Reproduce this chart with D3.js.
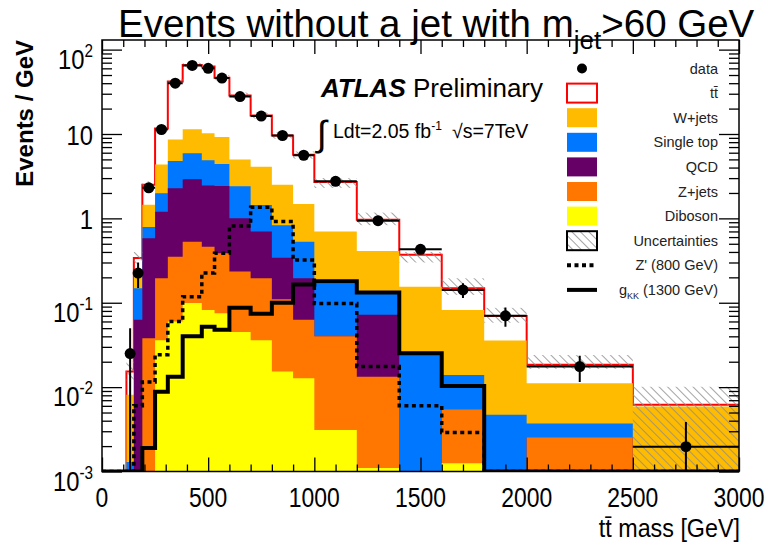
<!DOCTYPE html>
<html>
<head>
<meta charset="utf-8">
<script src="https://cdn.jsdelivr.net/npm/d3@7"></script>
<style>
  body { margin: 0; background: #fff; }
  svg { font-family: "Liberation Sans", Arial, sans-serif; }
</style>
</head>
<body>
<svg id="chart" width="769" height="544"></svg>
<script>

// ========== DATA (Events / GeV per bin) ==========

const binEdges = [0, 115, 150, 190, 250, 310, 380, 470, 530, 600, 700, 800, 900, 1000, 1200, 1400, 1600, 1800, 2000, 2500, 3000];

const diboson   = [0, 0, 0, 0, 0.036, 0.060, 0.099, 0.082, 0.075, 0.045, 0.036, 0.0153, 0.0127, 0.0031, 0.0011, 0, 0.00125, 0, 0, 0];
const zjets     = [0, 0, 0.0008, 0.038, 0.159, 0.29, 0.431, 0.378, 0.31, 0.189, 0.159, 0.095, 0.050, 0.037, 0.0122, 0, 0.0042, 0, 0.00255, 0];
const qcd       = [0, 0, 0.062, 0.542, 1.005, 1.92, 2.37, 1.99, 2.035, 0.766, 0.505, 0.23, 0.132, 0, 0.0587, 0, 0, 0, 0, 0];
const singleTop = [0, 0.0013, 0.086, 0.21, 0.78, 2.53, 3.0, 2.45, 1.98, 1.4, 0.74, 0.49, 0.335, 0.13, 0.058, 0.024, 0.0085, 0.0047, 0.00115, 0];
const wjets     = [0, 0.0068, 0.097, 0.66, 2.37, 3.8, 5.5, 5.3, 4.8, 2.6, 2.66, 1.67, 0.95, 0.53, 0.28, 0.131, 0.068, 0.031, 0.0074, 0.0059];
const ttbar     = [0, 0.0072, 0.094, 1.05, 7.25, 33.4, 54.2, 52.8, 37.3, 23.5, 12.5, 7.1, 4.18, 2.0, 0.55, 0.215, 0.067, 0.034, 0.0073, 0.0003];

const bandLo = [0, 0.012, 0.29, 2.25, 10.6, 39, 61, 59, 43, 26, 15.2, 8.8, 5.1, 2.3, 0.83, 0.30, 0.124, 0.058, 0.0165, 0.0005];
const bandHi = [0, 0.020, 0.40, 2.75, 12.6, 45, 70, 67, 50, 31, 18, 10.5, 6.2, 3.0, 1.17, 0.40, 0.195, 0.087, 0.024, 0.0101];

const dataVals = [null, 0.025, 0.225, 2.3, 11.3, 40, 65, 60, 46, 27.8, 16.3, 9.6, 5.6, 2.75, 0.94, 0.43, 0.142, 0.070, 0.0175, 0.00197];
const dataErr  = [null, 0.025, 0.075, 0.25, 0.45, 0.75, 0.8, 1.0, 0.8, 0.5, 0.4, 0.3, 0.22, 0.11, 0.07, 0.045, 0.028, 0.018, 0.006, 0.0019];

const zprime = [0, 0, 0.006, 0.0115, 0.0242, 0.060, 0.118, 0.225, 0.386, 0.81, 1.35, 0.92, 0.32, 0.098, 0.0175, 0.0060, 0.0029, 0, 0, 0];
const gkk    = [0, 0, 0, 0.0019, 0.0088, 0.0133, 0.040, 0.052, 0.048, 0.087, 0.074, 0.10, 0.165, 0.18, 0.132, 0.0252, 0.0103, 0, 0, 0];

const xTicks = [0, 500, 1000, 1500, 2000, 2500, 3000];
const yDecades = [-3, -2, -1, 0, 1, 2];

// stack, bottom to top
const stack = [
    { name: "Diboson", vals: diboson, color: "#ffff00" },
    { name: "Z+jets", vals: zjets, color: "#ff7700" },
    { name: "QCD", vals: qcd, color: "#660066" },
    { name: "Single top", vals: singleTop, color: "#0077ff" },
    { name: "W+jets", vals: wjets, color: "#ffbb00" },
    { name: "tt", vals: ttbar, color: "#ffffff" }
];


// ========== MAIN CODE ==========

const svg = d3.select("#chart");
const frame = { left: 102, right: 739, top: 40, bottom: 471.5 };

const x = d3.scaleLinear().domain([0, 3000]).range([frame.left, frame.right]);
const y = d3.scaleLog().domain([1e-3, 130]).range([frame.bottom, frame.top]).clamp(true);

const defs = svg.append("defs");
const hatch = defs.append("pattern")
    .attr("id", "hatch")
    .attr("patternUnits", "userSpaceOnUse")
    .attr("width", 6).attr("height", 6)
    .attr("patternTransform", "rotate(-45)");
hatch.append("line")
    .attr("x1", 0).attr("y1", 0).attr("x2", 0).attr("y2", 6)
    .attr("stroke", "#8c8c8c").attr("stroke-width", 1.6);

defs.append("clipPath").attr("id", "plotClip")
  .append("rect")
    .attr("x", frame.left).attr("y", frame.top)
    .attr("width", frame.right - frame.left).attr("height", frame.bottom - frame.top);

// step points of a histogram
function stepPoints(vals) {
    let pts = [];
    vals.forEach((v, i) => {
        pts.push([x(binEdges[i]), y(v)]);
        pts.push([x(binEdges[i + 1]), y(v)]);
    });
    return pts;
}

const line = d3.line();
const area = d3.area().y0(frame.bottom);

const plot = svg.append("g").attr("clip-path", "url(#plotClip)");

// cumulative sums per bin
let running = binEdges.slice(1).map(() => 0);
const cumulative = stack.map(s => {
    running = running.map((r, i) => r + s.vals[i]);
    return { name: s.name, color: s.color, tops: running.slice() };
});

// draw from the top of the stack down, so lower fills cover upper ones
cumulative.slice().reverse().forEach(c => {
    const pts = stepPoints(c.tops);
    plot.append("path")
        .attr("d", area.x(d => d[0]).y1(d => d[1])(pts))
        .attr("fill", c.color);
    if (c.name === "tt") {
        plot.append("path")
            .attr("d", line([[pts[0][0], frame.bottom]].concat(pts, [[pts[pts.length - 1][0], frame.bottom]])))
            .attr("fill", "none")
            .attr("stroke", "#ff0000")
            .attr("stroke-width", 2);
    }
});

// uncertainty band
plot.selectAll("rect.band")
    .data(bandHi.map((h, i) => ({ i: i, lo: bandLo[i], hi: h })).filter(d => d.hi > 0))
    .enter().append("rect")
    .attr("class", "band")
    .attr("x", d => x(binEdges[d.i]))
    .attr("width", d => x(binEdges[d.i + 1]) - x(binEdges[d.i]))
    .attr("y", d => y(d.hi))
    .attr("height", d => y(d.lo) - y(d.hi))
    .attr("fill", "url(#hatch)");

// signals
plot.append("path")
    .attr("d", line(stepPoints(zprime)))
    .attr("fill", "none")
    .attr("stroke", "#000")
    .attr("stroke-width", 3.5)
    .attr("stroke-dasharray", "4,3.5");

plot.append("path")
    .attr("d", line(stepPoints(gkk)))
    .attr("fill", "none")
    .attr("stroke", "#000")
    .attr("stroke-width", 4);

// data points
const points = dataVals.map((v, i) => ({ i: i, v: v, e: dataErr[i] })).filter(d => d.v !== null);

plot.selectAll("line.xerr")
    .data(points).enter().append("line")
    .attr("x1", d => x(binEdges[d.i])).attr("x2", d => x(binEdges[d.i + 1]))
    .attr("y1", d => y(d.v)).attr("y2", d => y(d.v))
    .attr("stroke", "#000").attr("stroke-width", 2);

plot.selectAll("line.yerr")
    .data(points).enter().append("line")
    .attr("x1", d => x((binEdges[d.i] + binEdges[d.i + 1]) / 2))
    .attr("x2", d => x((binEdges[d.i] + binEdges[d.i + 1]) / 2))
    .attr("y1", d => y(d.v - d.e)).attr("y2", d => y(d.v + d.e))
    .attr("stroke", "#000").attr("stroke-width", 2);

plot.selectAll("circle.data")
    .data(points).enter().append("circle")
    .attr("cx", d => x((binEdges[d.i] + binEdges[d.i + 1]) / 2))
    .attr("cy", d => y(d.v))
    .attr("r", 5.5)
    .attr("fill", "#000");

// frame and ticks
svg.append("rect")
    .attr("x", frame.left).attr("y", frame.top)
    .attr("width", frame.right - frame.left).attr("height", frame.bottom - frame.top)
    .attr("fill", "none").attr("stroke", "#000").attr("stroke-width", 1.5);

const xMinor = d3.range(0, 3001, 100).filter(v => v % 500 !== 0);
const yMinor = [];
yDecades.forEach(p => { for (let k = 2; k <= 9; k++) { if (k * Math.pow(10, p) <= 130) yMinor.push(k * Math.pow(10, p)); } });
const yMajor = yDecades.map(p => Math.pow(10, p));

function drawAxis(axis, transform, size) {
    svg.append("g")
        .attr("transform", transform)
        .call(axis.tickSize(size).tickFormat(""))
        .call(g => g.select(".domain").remove())
        .selectAll("line").attr("stroke", "#000").attr("stroke-width", 1.3);
}

drawAxis(d3.axisBottom(x).tickValues(xTicks), `translate(0,${frame.bottom})`, -14);
drawAxis(d3.axisBottom(x).tickValues(xMinor), `translate(0,${frame.bottom})`, -7);
drawAxis(d3.axisTop(x).tickValues(xTicks), `translate(0,${frame.top})`, -14);
drawAxis(d3.axisTop(x).tickValues(xMinor), `translate(0,${frame.top})`, -7);
drawAxis(d3.axisLeft(y).tickValues(yMajor), `translate(${frame.left},0)`, -20);
drawAxis(d3.axisLeft(y).tickValues(yMinor), `translate(${frame.left},0)`, -10);
drawAxis(d3.axisRight(y).tickValues(yMajor), `translate(${frame.right},0)`, -20);
drawAxis(d3.axisRight(y).tickValues(yMinor), `translate(${frame.right},0)`, -10);

// tick labels
svg.selectAll("text.xlab")
    .data(xTicks).enter().append("text")
    .attr("transform", d => `translate(${x(d)},507) scale(0.85,1)`)
    .attr("text-anchor", "middle")
    .attr("font-size", 27)
    .text(d => d);

yDecades.forEach(p => {
    const t = svg.append("text")
        .attr("text-anchor", "end")
        .attr("font-size", 28);
    if (p === 0 || p === 1) {
        t.attr("transform", `translate(93,${y(Math.pow(10, p)) + 11}) scale(0.85,1)`)
            .text(p === 0 ? "1" : "10");
    } else {
        t.attr("transform", `translate(93,${y(Math.pow(10, p)) + 19}) scale(0.85,1)`);
        t.append("tspan").text("10");
        t.append("tspan").attr("font-size", 18).attr("dy", -12).text(String(p));
    }
});

// axis titles
svg.append("text")
    .attr("transform", "translate(33,40) rotate(-90)")
    .attr("text-anchor", "end")
    .attr("font-size", 24)
    .attr("font-weight", "bold")
    .text("Events / GeV");

svg.append("text")
    .attr("transform", "translate(740,537) scale(0.88,1)")
    .attr("text-anchor", "end")
    .attr("font-size", 26.5)
    .text("tt\u0304 mass [GeV]");

// title
const title = svg.append("text")
    .attr("x", 118).attr("y", 37)
    .attr("font-size", 38.5);
title.append("tspan").text("Events without a jet with m");
title.append("tspan").attr("font-size", 26).attr("dy", 12).text("jet");
title.append("tspan").attr("dy", -12).text(">60 GeV");

// ATLAS label
svg.append("text")
    .attr("x", 321).attr("y", 97)
    .attr("font-size", 26).attr("font-weight", "bold").attr("font-style", "italic")
    .text("ATLAS");
svg.append("text")
    .attr("x", 413).attr("y", 97)
    .attr("font-size", 26)
    .text("Preliminary");

svg.append("text")
    .attr("x", 317).attr("y", 146)
    .attr("font-size", 36)
    .text("\u222B");
const lumi = svg.append("text")
    .attr("x", 333).attr("y", 138)
    .attr("font-size", 19.5);
lumi.append("tspan").text("Ldt=2.05 fb");
lumi.append("tspan").attr("font-size", 12).attr("dy", -8).text("-1");
lumi.append("tspan").attr("x", 452).attr("dy", 8).text("\u221As=7TeV");

// legend
const legendItems = [
    { label: "data", kind: "data" },
    { label: "tt\u0304", kind: "box", fill: "#ffffff", stroke: "#ff0000" },
    { label: "W+jets", kind: "box", fill: "#ffbb00" },
    { label: "Single top", kind: "box", fill: "#0077ff" },
    { label: "QCD", kind: "box", fill: "#660066" },
    { label: "Z+jets", kind: "box", fill: "#ff7700" },
    { label: "Diboson", kind: "box", fill: "#ffff00" },
    { label: "Uncertainties", kind: "box", fill: "url(#hatch)", stroke: "#000" },
    { label: "Z' (800 GeV)", kind: "dash" },
    { label: "gKK", kind: "line" }
];

const legend = svg.append("g").attr("class", "legend");
legendItems.forEach((d, i) => {
    const cy = 68.5 + i * 24.6;
    if (d.kind === "data") {
        legend.append("circle").attr("cx", 582).attr("cy", cy).attr("r", 5).attr("fill", "#000");
    } else if (d.kind === "box") {
        legend.append("rect")
            .attr("x", 567).attr("y", cy - 9.5).attr("width", 30).attr("height", 19)
            .attr("fill", d.fill)
            .attr("stroke", d.stroke || "none").attr("stroke-width", 2);
    } else {
        legend.append("line")
            .attr("x1", 567).attr("x2", 597).attr("y1", cy).attr("y2", cy)
            .attr("stroke", "#000").attr("stroke-width", 4)
            .attr("stroke-dasharray", d.kind === "dash" ? "4,3.5" : null);
    }
    const t = legend.append("text")
        .attr("x", 718).attr("y", cy + 5)
        .attr("text-anchor", "end")
        .attr("font-size", 14.5)
        .attr("fill", "#222");
    if (d.label === "gKK") {
        t.append("tspan").text("g");
        t.append("tspan").attr("font-size", 9).attr("dy", 4).text("KK");
        t.append("tspan").attr("dy", -4).text(" (1300 GeV)");
    } else {
        t.text(d.label);
    }
});

</script>
</body>
</html>
